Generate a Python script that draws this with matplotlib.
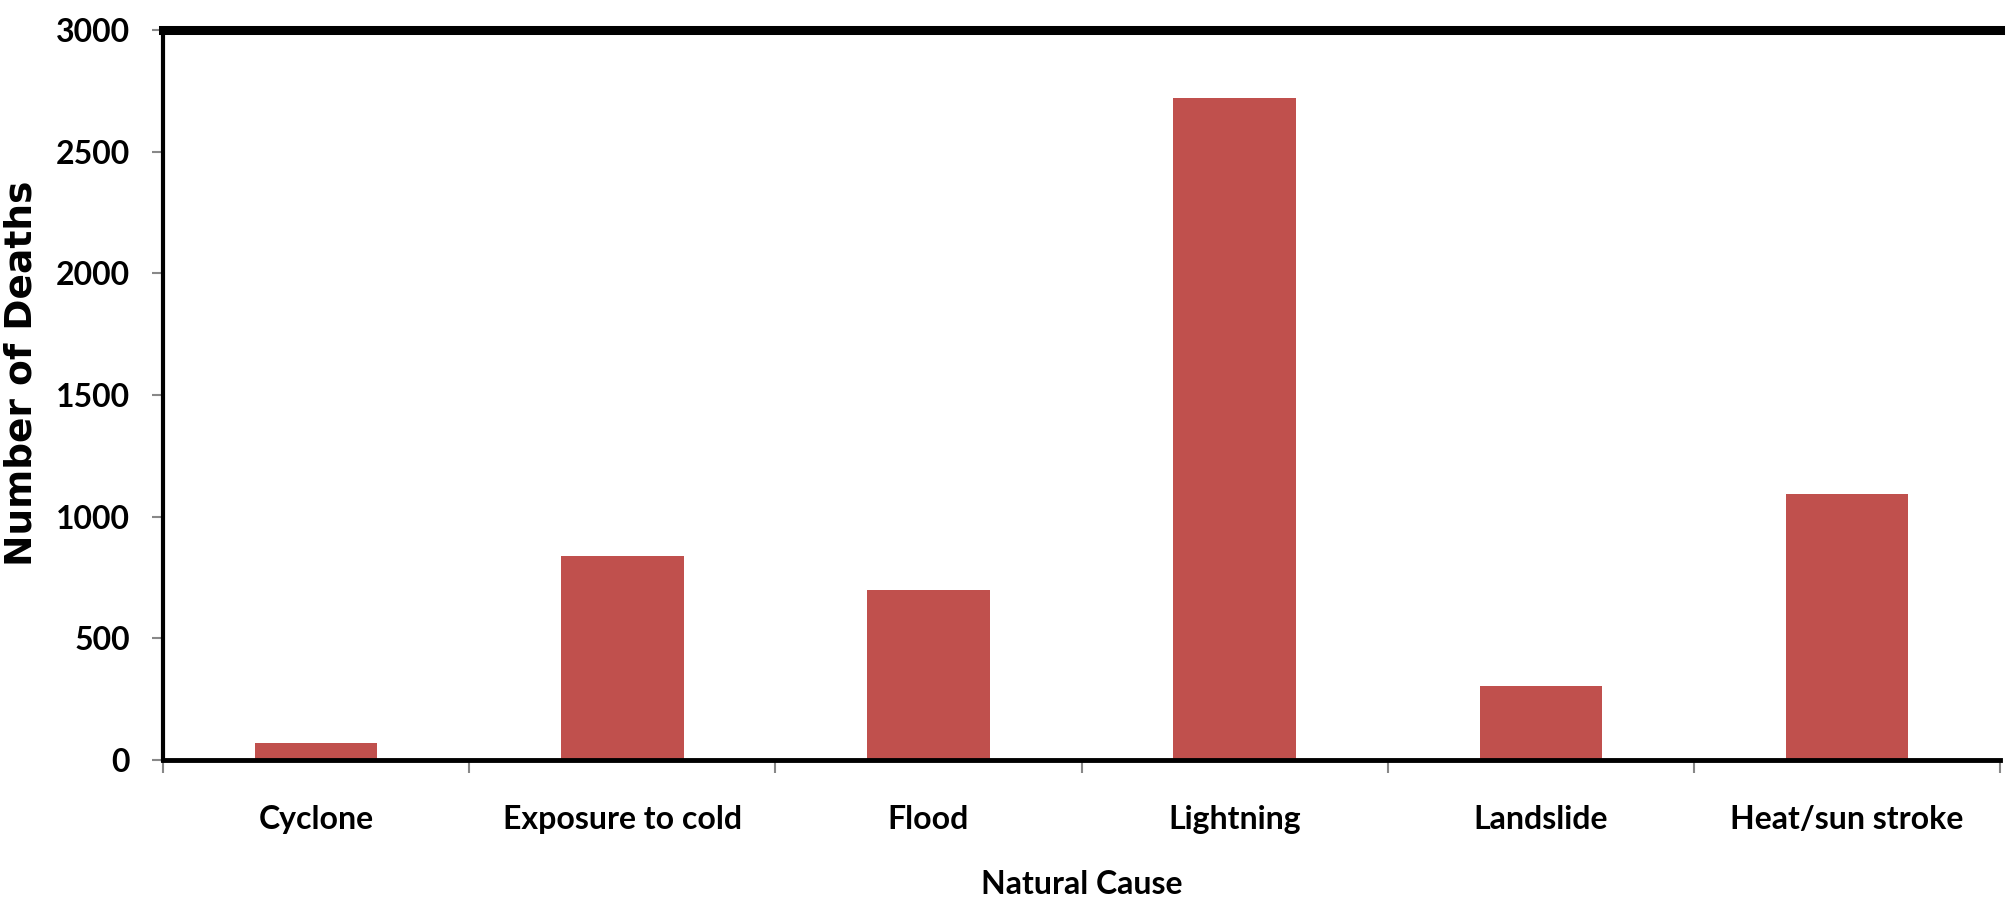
import matplotlib.pyplot as plt
import numpy as np

causes = ['Cyclone', 'Exposure to cold', 'Flood', 'Lightning', 'Landslide', 'Heat/sun stroke']
deaths = [70, 840, 700, 2720, 305, 1095]
yticks = [0, 500, 1000, 1500, 2000, 2500, 3000]

tick_font = ['Liberation Sans Narrow', 'Lato', 'DejaVu Sans']

fig = plt.figure(figsize=(20.08, 9.06), dpi=100)
ax = fig.add_axes([0.0812, 0.161, 0.9148, 0.806])

x = np.arange(len(causes))
ax.bar(x, deaths, width=0.4, color='#C0504D', zorder=2)

ax.set_xlim(-0.5, len(causes) - 0.5)
ax.set_ylim(0, 3000)
ax.set_yticks(yticks)
ax.set_xticks(x)
ax.set_xticklabels(causes)
ax.set_xticks(np.arange(len(causes) + 1) - 0.5, minor=True)

ax.tick_params(axis='x', which='major', length=0, pad=32)
ax.tick_params(axis='x', which='minor', length=9, width=1.5, color='#888888')
ax.tick_params(axis='y', length=8, width=1.5, color='#888888', pad=16)

for lab in ax.get_xticklabels() + ax.get_yticklabels():
    lab.set_fontfamily(tick_font)
    lab.set_fontweight('bold')
    lab.set_fontsize(23)

ax.spines['right'].set_visible(False)
ax.spines['top'].set_linewidth(6.5)
ax.spines['left'].set_linewidth(3)
ax.spines['bottom'].set_linewidth(3.5)
ax.spines['bottom'].set_zorder(3)

ax.set_xlabel('Natural Cause', fontfamily=tick_font, fontweight='bold', fontsize=23, labelpad=26)
ax.set_ylabel('Number of Deaths', fontfamily='DejaVu Sans', fontweight='bold', fontsize=27, va='center')
ax.yaxis.set_label_coords(-0.077, 0.53)

fig.savefig('out.png', dpi=100)
